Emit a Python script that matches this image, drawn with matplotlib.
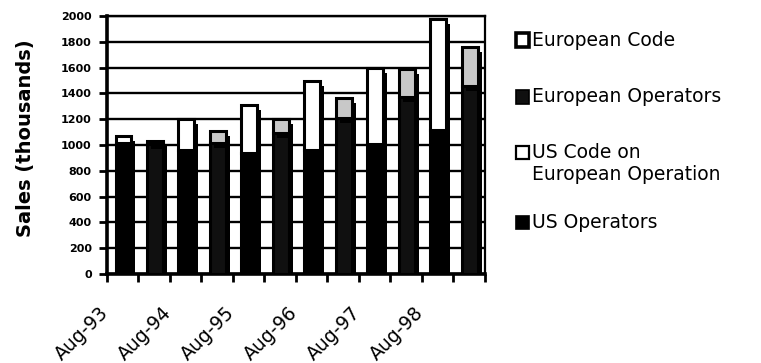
import numpy as np
import matplotlib
matplotlib.use('Agg')
import matplotlib.pyplot as plt
import matplotlib.patheffects as pe
from matplotlib.patches import Rectangle

# sales in thousands, one US column and one European column per year
years = ['Aug-93', 'Aug-94', 'Aug-95', 'Aug-96', 'Aug-97', 'Aug-98']
us_operators = [1015, 960, 940, 965, 1005, 1120]
us_code = [55, 240, 370, 535, 590, 857]
eu_operators = [1010, 1015, 1090, 1210, 1375, 1460]
eu_code = [23, 93, 109, 152, 212, 297]

legend_labels = ['European Code', 'European Operators',
                 'US Code on\nEuropean Operation', 'US Operators']

US_OPS = 'black'
US_CODE = 'white'
EU_OPS = '#101010'
EU_CODE = '#c8c8c8'

plt.rcParams['font.family'] = 'DejaVu Sans'

fig = plt.figure(figsize=(7.61, 3.63), dpi=100)
ax = fig.add_axes([0.1406, 0.2452, 0.4967, 0.7107])

idx = np.arange(len(years))
x_us = 2 * idx + 0.52
x_eu = 2 * idx + 1.52

bar_kw = dict(width=0.5, edgecolor='black', linewidth=2.2, zorder=3)
layers = [
    ax.bar(x_us, us_operators, color=US_OPS, **bar_kw),
    ax.bar(x_eu, eu_operators, color=EU_OPS, **bar_kw),
    ax.bar(x_us, us_code, bottom=us_operators, color=US_CODE, **bar_kw),
    ax.bar(x_eu, eu_code, bottom=eu_operators, color=EU_CODE, **bar_kw),
]

# black drop shadow on every column
shadow = [pe.SimplePatchShadow(offset=(3.0, -3.6), shadow_rgbFace='black', alpha=1.0),
          pe.Normal()]
for container in layers:
    for patch in container:
        patch.set_path_effects(shadow)

ax.set_ylim(0, 2000)
ax.set_yticks(range(0, 2001, 200))
ax.yaxis.grid(True, color='black', linewidth=1.7)
ax.set_axisbelow(True)
ax.tick_params(axis='y', length=6, width=2, pad=5, labelsize=8)
for lab in ax.get_yticklabels():
    lab.set_fontweight('bold')

ax.set_xlim(0, 12)
ax.set_xticks(np.arange(13), minor=True)
ax.set_xticks(2 * idx + 0.17, labels=years)
ax.tick_params(axis='x', which='minor', length=6, width=2, direction='out')
ax.tick_params(axis='x', which='major', length=0, pad=21, labelsize=13.5)
plt.setp(ax.get_xticklabels(), rotation=45, ha='right')

ax.spines['left'].set_linewidth(2.6)
ax.spines['bottom'].set_linewidth(2.6)
ax.spines['right'].set_linewidth(1.6)
ax.spines['top'].set_linewidth(1.7)

fig.text(0.034, 0.62, 'Sales (thousands)', rotation=90, fontsize=14,
         fontweight='bold', ha='center', va='center')

# legend drawn by hand on the right
W, H = 761, 363
legend_faces = ['white', EU_OPS, US_CODE, US_OPS]
legend_edges = [2.6, 1.2, 1.6, 1.2]
legend_rows = [40, 97, 152, 222]
for label, face, lw, y in zip(legend_labels, legend_faces, legend_edges, legend_rows):
    fig.add_artist(Rectangle((516 / W, 1 - (y + 6.5) / H), 13 / W, 13 / H,
                             transform=fig.transFigure, facecolor=face,
                             edgecolor='black', linewidth=lw))
    fig.text(532 / W, 1 - (y - 9.5) / H, label, ha='left', va='top',
             fontsize=13.5, linespacing=1.25)

fig.savefig('out.png', dpi=100)
